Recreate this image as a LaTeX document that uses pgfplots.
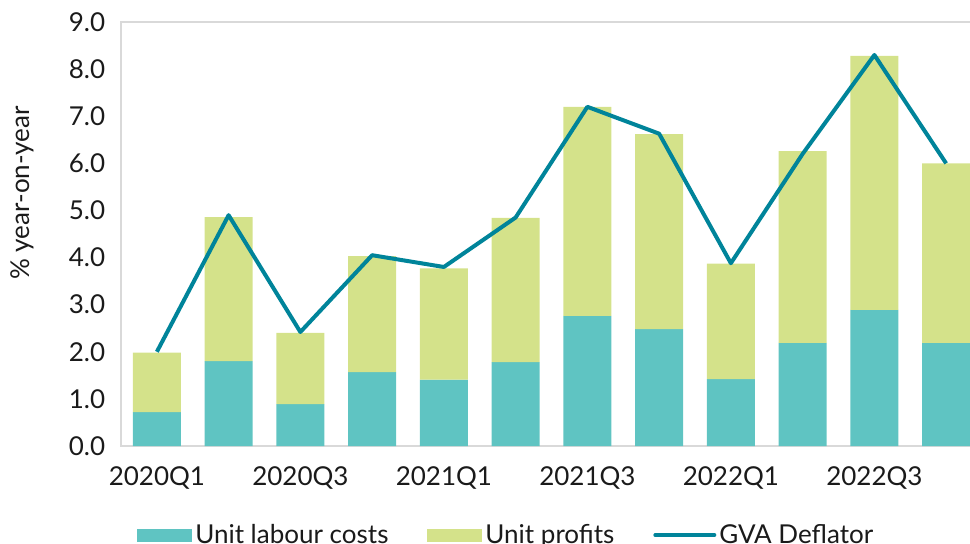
\documentclass[border=0pt]{standalone}
\usepackage{fontspec}
\setmainfont{Lato}
\usepackage{pgfplots}
\pgfplotsset{compat=1.18}
\definecolor{ulc}{HTML}{5FC4C2}
\definecolor{upr}{HTML}{D4E28A}
\definecolor{gva}{HTML}{00849A}
\definecolor{framec}{HTML}{D9D9D9}
\definecolor{txt}{HTML}{1A1A1A}
\begin{document}
\begin{tikzpicture}
\useasboundingbox (0,0) rectangle (485pt,271.5pt);
\begin{axis}[
  at={(60.5pt,48.5pt)}, anchor=south west,
  scale only axis, width=430.5pt, height=212pt,
  xmin=-0.5, xmax=11.5, ymin=0, ymax=9,
  ybar stacked, bar width=24pt, reverse stacked plots=false,
  axis line style={framec, line width=0.8pt},
  xtick={0,2,4,6,8,10},
  xticklabels={2020Q1,2020Q3,2021Q1,2021Q3,2022Q1,2022Q3},
  ytick={0,1,2,3,4,5,6,7,8,9},
  major tick length=0pt,
  /pgf/number format/assume math mode=true,
  yticklabel style={/pgf/number format/fixed, /pgf/number format/fixed zerofill, /pgf/number format/precision=1, xshift=-4.4pt},
  xticklabel style={yshift=-7pt},
  tick label style={font=\fontsize{13}{15}\selectfont, text=txt},
  ylabel={\% year-on-year},
  ylabel style={at={(axis description cs:-0.115,0.597)}, anchor=center, font=\fontsize{13}{15}\selectfont, text=txt},
  legend columns=3,
  legend style={draw=none, at={(0.448,-0.21)}, anchor=center, font=\fontsize{13}{15}\selectfont, text=txt,
     nodes={inner sep=1.5pt},
     /tikz/every even column/.append style={column sep=18pt}},
]
\addplot[fill=ulc, draw=none, legend image code/.code={\fill[ulc] (0pt,-3.25pt) rectangle (27.5pt,3.25pt);}] coordinates {
(0,0.72) (1,1.80) (2,0.89) (3,1.57) (4,1.41) (5,1.78) (6,2.76) (7,2.48) (8,1.42) (9,2.19) (10,2.89) (11,2.19)};
\addlegendentry{Unit labour costs}
\addplot[fill=upr, draw=none, legend image code/.code={\fill[upr] (0pt,-3.25pt) rectangle (27.5pt,3.25pt);}] coordinates {
(0,1.26) (1,3.06) (2,1.51) (3,2.46) (4,2.36) (5,3.06) (6,4.44) (7,4.14) (8,2.45) (9,4.07) (10,5.39) (11,3.81)};
\addlegendentry{Unit profits}
\addplot[gva, line width=2pt, sharp plot, stack plots=false, mark=none, line join=round,
  legend image code/.code={\draw[gva, line width=2pt, line cap=round] (0pt,0pt) -- (29.5pt,0pt);}] coordinates {
(0,2.0) (1,4.9) (2,2.42) (3,4.05) (4,3.8) (5,4.85) (6,7.2) (7,6.63) (8,3.88) (9,6.2) (10,8.3) (11,6.0)};
\addlegendentry{GVA Deflator}
\end{axis}
\end{tikzpicture}
\end{document}
